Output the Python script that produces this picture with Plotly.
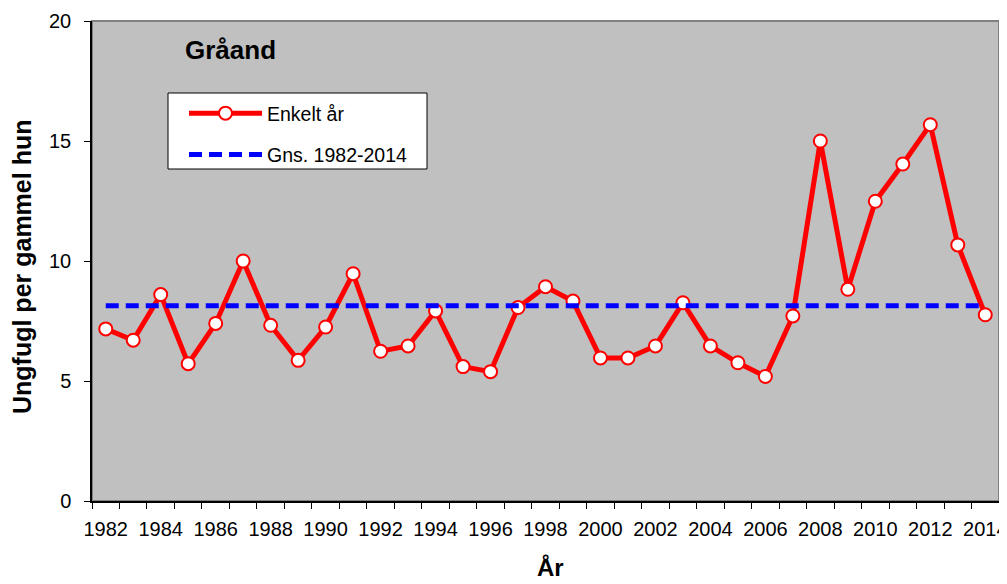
import plotly.graph_objects as go

years = list(range(1982, 2015))
values = [7.17, 6.70, 8.60, 5.72, 7.40, 10.00, 7.32, 5.86, 7.25, 9.47, 6.24,
          6.46, 7.92, 5.60, 5.39, 8.06, 8.93, 8.33, 5.96, 5.96, 6.46, 8.26,
          6.46, 5.76, 5.19, 7.71, 15.00, 8.82, 12.49, 14.04, 15.68, 10.67, 7.76]
mean_value = 8.14
xtick_vals = list(range(1982, 2015, 2))
ytick_vals = [0, 5, 10, 15, 20]

FONT = "Liberation Sans, Arial, sans-serif"

# page body adds an 8 px offset; work in reference-window pixels and shift
OFF = 8
FIG_W, FIG_H = 1007, 584
L, R, T, B = 92 - OFF, 999 - OFF, 21 - OFF, 501 - OFF
W, H = R - L, B - T


def px(x):
    return (x - OFF - L) / W


def py(y):
    return (B - (y - OFF)) / H


fig = go.Figure()
fig.add_trace(go.Scatter(
    x=years, y=values, mode="lines+markers", name="Enkelt år",
    line=dict(color="#FF0000", width=5),
    marker=dict(symbol="circle", size=13, color="white",
                line=dict(color="#FF0000", width=2)),
    legendgroup="a",
))
fig.add_trace(go.Scatter(
    x=[years[0], years[-1]], y=[mean_value, mean_value], mode="lines",
    name="Gns. 1982-2014",
    line=dict(color="#0000FF", width=5, dash="13px,7px"),
    legendgroup="b",
))

fig.update_layout(
    width=FIG_W, height=FIG_H,
    margin=dict(l=L, r=FIG_W - R, t=T, b=FIG_H - B, autoexpand=False),
    paper_bgcolor="white", plot_bgcolor="#C0C0C0",
    font=dict(family=FONT, size=20, color="black"),
    showlegend=True,
    legend=dict(x=px(184), y=py(94), xanchor="left", yanchor="top",
                bgcolor="rgba(0,0,0,0)", borderwidth=0,
                font=dict(family=FONT, size=19.5), itemwidth=73,
                traceorder="grouped", tracegroupgap=13),
    xaxis=dict(range=[1981.5, 2014.5], tickmode="array", tickvals=xtick_vals,
               ticks="", showgrid=False, zeroline=False, automargin=False,
               showline=True, linecolor="black", linewidth=1.5,
               ticklabeloverflow="allow", ticklabelstandoff=9,
               tickfont=dict(family=FONT, size=20),
               minor=dict(tickmode="linear", tick0=1981.5, dtick=1, ticks="outside",
                          ticklen=6, tickcolor="black", tickwidth=1, showgrid=False)),
    yaxis=dict(range=[0, 20], tickmode="array", tickvals=ytick_vals,
               ticks="outside", ticklen=6, tickcolor="black",
               showgrid=False, zeroline=False, automargin=False,
               showline=True, linecolor="black", linewidth=1.5,
               ticklabelstandoff=9,
               tickfont=dict(family=FONT, size=20)),
)

fig.add_shape(type="rect", xref="paper", yref="paper", x0=0, y0=0, x1=1, y1=1,
              line=dict(color="#808080", width=2), layer="below")
# legend frame
fig.add_shape(type="rect", xref="paper", yref="paper",
              x0=px(168), x1=px(427), y0=py(169), y1=py(93),
              line=dict(color="black", width=1), fillcolor="white", layer="above")

fig.add_annotation(text="<b>Gråand</b>", xref="paper", yref="paper",
                   x=px(183), y=py(50), xanchor="left", yanchor="middle",
                   showarrow=False, font=dict(family=FONT, size=26, color="black"))
fig.add_annotation(text="<b>Ungfugl per gammel hun</b>", xref="paper", yref="paper",
                   x=px(22), y=py(267), xanchor="center", yanchor="middle",
                   textangle=-90, showarrow=False,
                   font=dict(family=FONT, size=25, color="black"))
fig.add_annotation(text="<b>År</b>", xref="paper", yref="paper",
                   x=px(550), y=py(567), xanchor="center", yanchor="middle",
                   showarrow=False, font=dict(family=FONT, size=24, color="black"))

fig.write_html("out.html")
